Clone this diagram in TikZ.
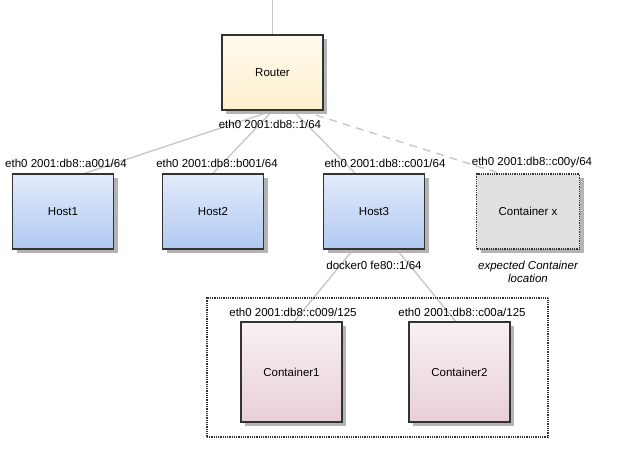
\documentclass[tikz,border=0pt]{standalone}
\usepackage{fontspec}
\setmainfont{Liberation Sans}
\usetikzlibrary{shadows,backgrounds}
\definecolor{edgec}{HTML}{333333}
\definecolor{linkc}{HTML}{C8C8C8}
\definecolor{shadowc}{HTML}{B4B4B4}
\definecolor{rtop}{HTML}{FEFAEE}
\definecolor{rbot}{HTML}{FDEFCC}
\definecolor{htop}{HTML}{E2EBFB}
\definecolor{hbot}{HTML}{B0C9F1}
\definecolor{ctop}{HTML}{F8F0F4}
\definecolor{cbot}{HTML}{E8CFDA}
\definecolor{xfill}{HTML}{E0E0E0}
\tikzset{
  boxbase/.style={draw=edgec, line width=1.6pt, minimum width=101pt, inner sep=0pt,
    font=\fontsize{11.5}{13}\selectfont,
    drop shadow={shadow xshift=4pt, shadow yshift=-4pt, fill=shadowc, opacity=1}},
  routerbox/.style={boxbase, minimum height=75pt, top color=rtop, bottom color=rbot},
  hostbox/.style={boxbase, minimum height=75pt, top color=htop, bottom color=hbot},
  contbox/.style={boxbase, minimum height=100pt, top color=ctop, bottom color=cbot},
  ghostbox/.style={boxbase, minimum width=103pt, minimum height=75pt, fill=xfill, line width=1.2pt, dash pattern=on 0.9pt off 0.9pt},
  lbl/.style={font=\fontsize{11.5}{13}\selectfont, inner sep=0pt},
  link/.style={draw=linkc, line width=1.4pt},
  dlink/.style={link, dash pattern=on 8pt off 6pt},
}
\begin{document}
\begin{tikzpicture}[x=1pt,y=-1pt]
\useasboundingbox (0,0) rectangle (635,457);
\node[draw=edgec, line width=1.1pt, dash pattern=on 0.9pt off 0.9pt, minimum width=341pt, minimum height=139pt, inner sep=0pt] (grp) at (377.5,367.5) {};
\node[routerbox] (router) at (272.5,72.5) {Router};
\node[hostbox] (host1) at (63,211.5) {Host1};
\node[hostbox] (host2) at (213,211.5) {Host2};
\node[hostbox] (host3) at (374,211.5) {Host3};
\node[ghostbox] (cx) at (528,211.5) {Container x};
\node[contbox] (c1) at (291.5,372) {Container1};
\node[contbox] (c2) at (459.5,372) {Container2};
\coordinate (up) at (272.5,0);
\begin{scope}[on background layer]
\draw[link] (up) -- (router.north);
\draw[link] (router.south) -- ([xshift=22pt]host1.north);
\draw[link] (router.south) -- (host2.north);
\draw[link] ([xshift=20.5pt]router.south) -- ([xshift=-19pt]host3.north);
\draw[dlink] ([xshift=30pt]router.south) -- ([xshift=-28pt]cx.north);
\draw[link] ([xshift=-21pt]host3.south) -- ([xshift=3pt]c1.north);
\draw[link] ([xshift=23pt]host3.south) -- ([xshift=-4pt]c2.north);
\end{scope}
\node[lbl] (lr) at (270,124) {eth0 2001:db8::1/64};
\node[lbl] (l1) at (66,163) {eth0 2001:db8::a001/64};
\node[lbl] (l2) at (217,163) {eth0 2001:db8::b001/64};
\node[lbl] (l3) at (385,163) {eth0 2001:db8::c001/64};
\node[lbl] (lx) at (532,163) {eth0 2001:db8::c00y/64};
\node[lbl] (ld) at (374,265) {docker0 fe80::1/64};
\node[lbl, align=center, font=\fontsize{11.5}{13}\selectfont\itshape] (le) at (528,271.5) {expected Container\\location};
\node[lbl] (lc1) at (293,312) {eth0 2001:db8::c009/125};
\node[lbl] (lc2) at (462,312) {eth0 2001:db8::c00a/125};
\end{tikzpicture}
\end{document}
